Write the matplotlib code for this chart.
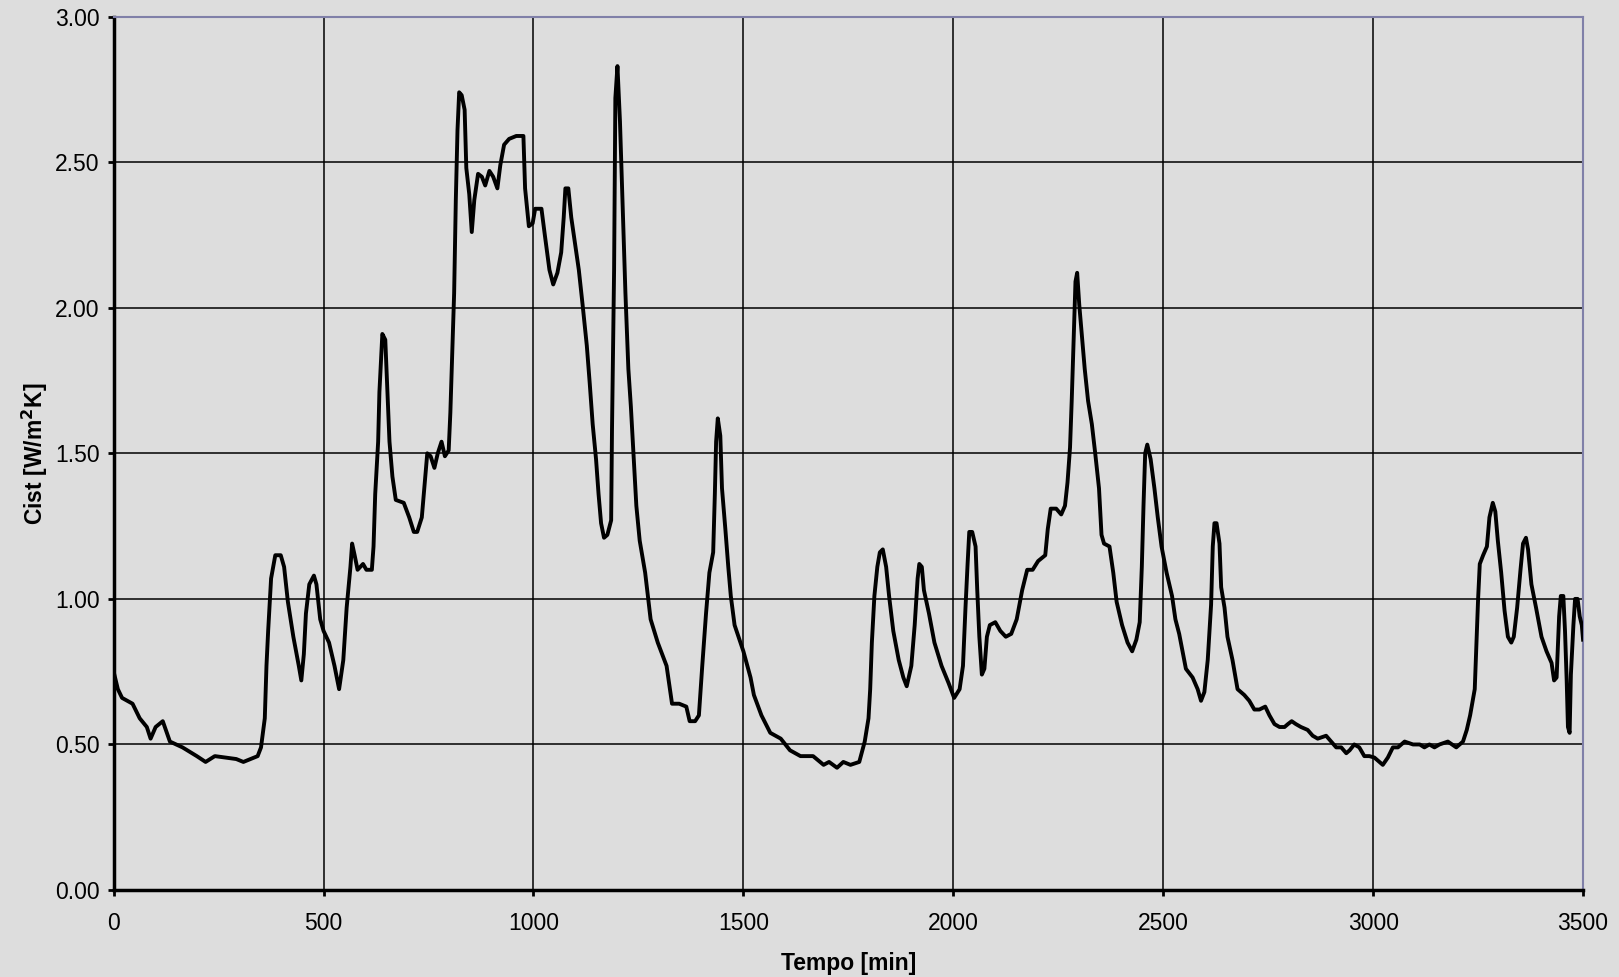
import matplotlib
matplotlib.use("Agg")
import matplotlib.pyplot as plt

plt.rcParams['font.family'] = ['Liberation Sans', 'DejaVu Sans']

# Tempo [min]
tempo = [0, 10, 20, 45, 62, 79, 88, 100, 117, 134, 164, 198, 219, 241, 292, 309, 343, 351,
         360, 364, 368, 375, 385, 398, 406, 415, 428, 441, 447, 453, 458, 466, 477, 483,
         492, 500, 513, 526, 537, 547, 555, 564, 568, 574, 581, 594, 602, 615, 619, 623,
         630, 633, 640, 647, 653, 657, 664, 672, 691, 704, 715, 723, 734, 741, 747, 755,
         764, 772, 781, 789, 798, 802, 806, 811, 815, 819, 823, 829, 836, 840, 847, 853,
         859, 868, 877, 885, 895, 904, 914, 921, 930, 942, 959, 976, 980, 989, 998, 1004,
         1019, 1027, 1038, 1047, 1057, 1066, 1072, 1076, 1083, 1090, 1100, 1108, 1117,
         1127, 1134, 1141, 1149, 1155, 1161, 1168, 1176, 1185, 1187, 1192, 1195, 1200,
         1206, 1212, 1219, 1226, 1232, 1238, 1245, 1253, 1266, 1279, 1296, 1317, 1330,
         1347, 1364, 1372, 1385, 1394, 1402, 1411, 1419, 1428, 1432, 1435, 1439, 1445,
         1449, 1457, 1464, 1470, 1479, 1500, 1517, 1525, 1543, 1564, 1589, 1611, 1636,
         1666, 1691, 1704, 1723, 1738, 1755, 1776, 1789, 1798, 1802, 1806, 1812, 1819,
         1825, 1832, 1840, 1847, 1857, 1870, 1881, 1889, 1900, 1908, 1915, 1919, 1925,
         1930, 1942, 1955, 1972, 1989, 2002, 2015, 2023, 2029, 2034, 2038, 2045, 2053,
         2057, 2062, 2068, 2074, 2080, 2087, 2100, 2112, 2125, 2138, 2151, 2164, 2176,
         2189, 2202, 2219, 2225, 2232, 2245, 2257, 2266, 2272, 2278, 2282, 2287, 2291,
         2295, 2300, 2306, 2313, 2321, 2330, 2338, 2347, 2353, 2359, 2372, 2381, 2389,
         2402, 2415, 2426, 2436, 2444, 2449, 2453, 2457, 2462, 2470, 2479, 2487, 2496,
         2508, 2521, 2529, 2538, 2554, 2570, 2582, 2590, 2598, 2606, 2614, 2618, 2622,
         2627, 2634, 2638, 2646, 2653, 2665, 2677, 2693, 2705, 2717, 2729, 2743, 2753,
         2765, 2777, 2789, 2797, 2806, 2816, 2828, 2844, 2856, 2868, 2888, 2900, 2912,
         2924, 2936, 2944, 2955, 2967, 2979, 2991, 3003, 3023, 3035, 3047, 3059, 3075,
         3095, 3111, 3122, 3134, 3146, 3158, 3178, 3198, 3214, 3223, 3231, 3242, 3246,
         3250, 3254, 3262, 3271, 3277, 3285, 3291, 3297, 3305, 3313, 3321, 3329, 3335,
         3343, 3351, 3357, 3364, 3369, 3377, 3388, 3401, 3413, 3425, 3431, 3437, 3443,
         3447, 3453, 3457, 3461, 3464, 3468, 3471, 3477, 3481, 3487, 3492, 3497, 3500]

# Cist [W/m2K]
cist = [0.75, 0.69, 0.66, 0.64, 0.59, 0.56, 0.52, 0.56, 0.58, 0.51, 0.49, 0.46, 0.44, 0.46,
        0.45, 0.44, 0.46, 0.49, 0.59, 0.77, 0.89, 1.07, 1.15, 1.15, 1.11, 0.99, 0.87, 0.77,
        0.72, 0.81, 0.95, 1.05, 1.08, 1.05, 0.93, 0.89, 0.85, 0.77, 0.69, 0.79, 0.97, 1.11,
        1.19, 1.15, 1.10, 1.12, 1.10, 1.10, 1.18, 1.36, 1.54, 1.71, 1.91, 1.89, 1.68, 1.54,
        1.42, 1.34, 1.33, 1.28, 1.23, 1.23, 1.28, 1.40, 1.50, 1.49, 1.45, 1.50, 1.54, 1.49,
        1.51, 1.64, 1.82, 2.05, 2.37, 2.61, 2.74, 2.73, 2.68, 2.48, 2.39, 2.26, 2.37, 2.46,
        2.45, 2.42, 2.47, 2.45, 2.41, 2.49, 2.56, 2.58, 2.59, 2.59, 2.41, 2.28, 2.29, 2.34,
        2.34, 2.25, 2.13, 2.08, 2.12, 2.19, 2.31, 2.41, 2.41, 2.31, 2.21, 2.13, 2.01, 1.87,
        1.74, 1.60, 1.48, 1.36, 1.26, 1.21, 1.22, 1.27, 1.58, 2.13, 2.72, 2.83, 2.64, 2.37,
        2.05, 1.79, 1.66, 1.50, 1.32, 1.20, 1.09, 0.93, 0.85, 0.77, 0.64, 0.64, 0.63, 0.58,
        0.58, 0.60, 0.77, 0.95, 1.09, 1.16, 1.36, 1.54, 1.62, 1.56, 1.38, 1.24, 1.11, 1.01,
        0.91, 0.82, 0.73, 0.67, 0.60, 0.54, 0.52, 0.48, 0.46, 0.46, 0.43, 0.44, 0.42, 0.44,
        0.43, 0.44, 0.51, 0.59, 0.69, 0.85, 1.01, 1.11, 1.16, 1.17, 1.11, 1.01, 0.89, 0.79,
        0.73, 0.70, 0.77, 0.91, 1.07, 1.12, 1.11, 1.03, 0.95, 0.85, 0.77, 0.71, 0.66, 0.69,
        0.77, 0.97, 1.12, 1.23, 1.23, 1.18, 1.03, 0.87, 0.74, 0.76, 0.87, 0.91, 0.92, 0.89,
        0.87, 0.88, 0.93, 1.03, 1.10, 1.10, 1.13, 1.15, 1.24, 1.31, 1.31, 1.29, 1.32, 1.40,
        1.52, 1.68, 1.91, 2.09, 2.12, 2.01, 1.91, 1.79, 1.68, 1.60, 1.50, 1.38, 1.22, 1.19,
        1.18, 1.09, 0.99, 0.91, 0.85, 0.82, 0.86, 0.92, 1.11, 1.32, 1.50, 1.53, 1.48, 1.38,
        1.28, 1.18, 1.09, 1.01, 0.93, 0.88, 0.76, 0.73, 0.69, 0.65, 0.68, 0.79, 0.98, 1.18,
        1.26, 1.26, 1.19, 1.04, 0.97, 0.87, 0.79, 0.69, 0.67, 0.65, 0.62, 0.62, 0.63, 0.60,
        0.57, 0.56, 0.56, 0.57, 0.58, 0.57, 0.56, 0.55, 0.53, 0.52, 0.53, 0.51, 0.49, 0.49,
        0.47, 0.48, 0.50, 0.49, 0.46, 0.46, 0.455, 0.43, 0.455, 0.49, 0.49, 0.51, 0.50,
        0.50, 0.49, 0.50, 0.49, 0.50, 0.51, 0.49, 0.51, 0.55, 0.60, 0.69, 0.85, 1.00, 1.12,
        1.15, 1.18, 1.28, 1.33, 1.30, 1.20, 1.09, 0.96, 0.87, 0.85, 0.87, 0.97, 1.10, 1.19,
        1.21, 1.17, 1.05, 0.97, 0.87, 0.82, 0.78, 0.72, 0.73, 0.94, 1.01, 1.01, 0.89, 0.72,
        0.56, 0.54, 0.74, 0.91, 1.00, 1.00, 0.94, 0.91, 0.86]

x_ticks = [0, 500, 1000, 1500, 2000, 2500, 3000, 3500]
y_ticks = [0.0, 0.5, 1.0, 1.5, 2.0, 2.5, 3.0]

bg = '#dddddd'
fig = plt.figure(figsize=(16.19, 9.77), dpi=100, facecolor=bg)
ax = fig.add_axes([0.0702, 0.089, 0.9076, 0.894])
ax.set_facecolor(bg)

ax.plot(tempo, cist, color='black', linewidth=2.8, zorder=3)

ax.set_xlim(0, 3500)
ax.set_ylim(0, 3.0)
ax.set_xticks(x_ticks)
ax.set_yticks(y_ticks)
ax.set_yticklabels([f'{v:.2f}' for v in y_ticks])
ax.grid(True, color='black', linewidth=1.1)
ax.set_axisbelow(True)

ax.tick_params(axis='both', direction='out', length=4, width=2, color='black',
               labelsize=16.5)
ax.tick_params(axis='x', pad=12)
ax.tick_params(axis='y', pad=6)

for s in ['left', 'bottom']:
    ax.spines[s].set_color('black')
    ax.spines[s].set_linewidth(2.5)
for s in ['top', 'right']:
    ax.spines[s].set_color('#8080a8')
    ax.spines[s].set_linewidth(1.5)

ax.set_xlabel('Tempo [min]', fontsize=16.5, fontweight='bold', labelpad=12)
ax.set_ylabel('Cist [W/m$^\\mathbf{2}$K]', fontsize=16.5, fontweight='bold', labelpad=4)

plt.savefig('out.png', dpi=100, facecolor=bg)
